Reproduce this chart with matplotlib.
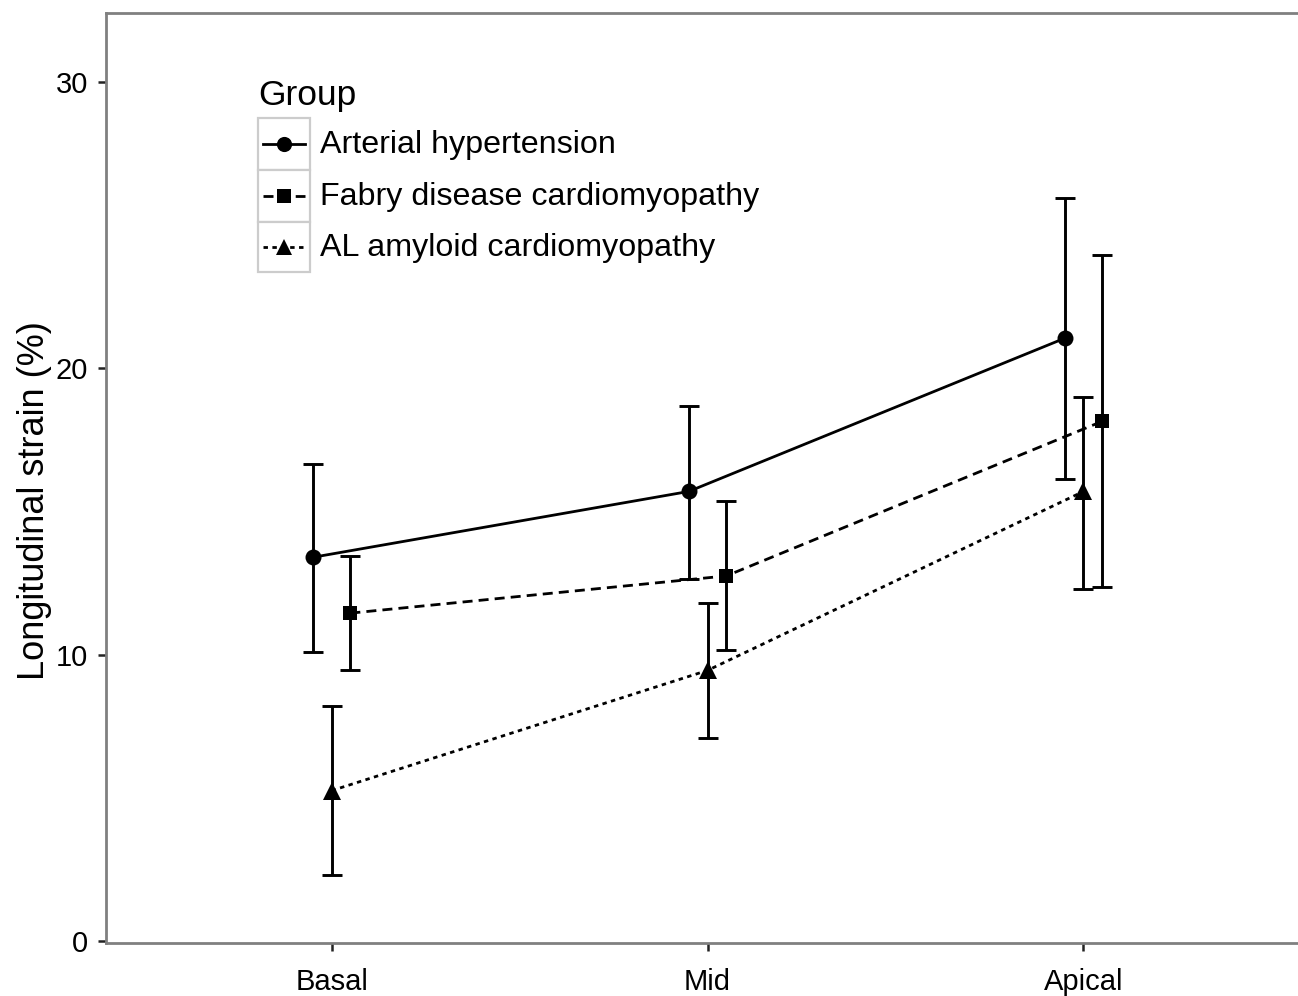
import matplotlib
matplotlib.use("Agg")
import matplotlib.pyplot as plt
from matplotlib.patches import Rectangle
from matplotlib.lines import Line2D

plt.rcParams['font.family'] = ['Liberation Sans', 'DejaVu Sans']

regions = ["Basal", "Mid", "Apical"]
groups = ["Arterial hypertension", "Fabry disease cardiomyopathy", "AL amyloid cardiomyopathy"]
means = {
    "Arterial hypertension": [13.4, 15.7, 21.05],
    "Fabry disease cardiomyopathy": [11.45, 12.75, 18.15],
    "AL amyloid cardiomyopathy": [5.25, 9.45, 15.7],
}
lower = {
    "Arterial hypertension": [10.1, 12.65, 16.15],
    "Fabry disease cardiomyopathy": [9.45, 10.15, 12.35],
    "AL amyloid cardiomyopathy": [2.3, 7.1, 12.3],
}
upper = {
    "Arterial hypertension": [16.65, 18.7, 25.95],
    "Fabry disease cardiomyopathy": [13.45, 15.35, 23.95],
    "AL amyloid cardiomyopathy": [8.2, 11.8, 19.0],
}
yticks = [0, 10, 20, 30]

offsets = [-0.05, 0.05, 0.0]
markers = ['o', 's', '^']
msizes = [11.5, 10, 12.5]
styles = ['-', (0, (3.6, 2.2)), (0, (1.6, 1.6))]

W, H = 1298, 996
fig = plt.figure(figsize=(W / 100, H / 100), dpi=100)
ax = fig.add_axes([106 / W, (H - 943) / H, 1203 / W, 930 / H])

for g, off, m, ms, ls in zip(groups, offsets, markers, msizes, styles):
    xs = [i + 1 + off for i in range(len(regions))]
    ys = means[g]
    yerr = [[y - lo for y, lo in zip(ys, lower[g])], [hi - y for y, hi in zip(ys, upper[g])]]
    ax.errorbar(xs, ys, yerr=yerr, fmt='none', ecolor='black', elinewidth=2.1,
                capsize=7, capthick=2.1, zorder=2)
    ax.plot(xs, ys, color='black', linestyle=ls, linewidth=2.0, marker=m,
            markersize=ms, markeredgewidth=0, zorder=3)

ax.set_xlim(0.4, 3.6)
ax.set_ylim(-0.07, 32.41)
ax.set_xticks([1, 2, 3])
ax.set_xticklabels(regions)
ax.set_yticks(yticks)
ax.tick_params(axis='both', labelsize=21, length=6, width=1.8, color='#222222')
ax.tick_params(axis='x', pad=12)
ax.tick_params(axis='y', pad=7)
ax.set_ylabel("Longitudinal strain (%)", fontsize=26)
ax.yaxis.set_label_coords(-0.045, 0.476)
for s in ax.spines.values():
    s.set_color('#808080')
    s.set_linewidth(2.0)
ax.spines['right'].set_visible(False)

# Legend (manual, ggplot style)
def fx(px):
    return px / W

def fy(py):
    return (H - py) / H

fig.text(fx(258), fy(96), "Group", fontsize=25.5, ha='left', va='center')
key_left, key_w = 258, 52
rows = [(118, 170), (170, 222), (222, 272)]
for (top, bot), g, m, ms, ls in zip(rows, groups, markers, msizes, styles):
    fig.add_artist(Rectangle((fx(key_left), fy(bot)), key_w / W, (bot - top) / H,
                             transform=fig.transFigure, facecolor='white',
                             edgecolor='#cccccc', linewidth=1.6))
    cy = (top + bot) / 2
    fig.add_artist(Line2D([fx(key_left + 5), fx(key_left + key_w - 5)], [fy(cy), fy(cy)],
                          transform=fig.transFigure, color='black', linestyle=ls,
                          linewidth=2.0))
    fig.add_artist(Line2D([fx(key_left + key_w / 2)], [fy(cy)], transform=fig.transFigure,
                          color='black', marker=m, markersize=ms * 0.95, markeredgewidth=0,
                          linestyle='none'))
    fig.text(fx(320), fy(cy + 1), g, fontsize=23.2, ha='left', va='center')

fig.savefig("out.png", dpi=100)
